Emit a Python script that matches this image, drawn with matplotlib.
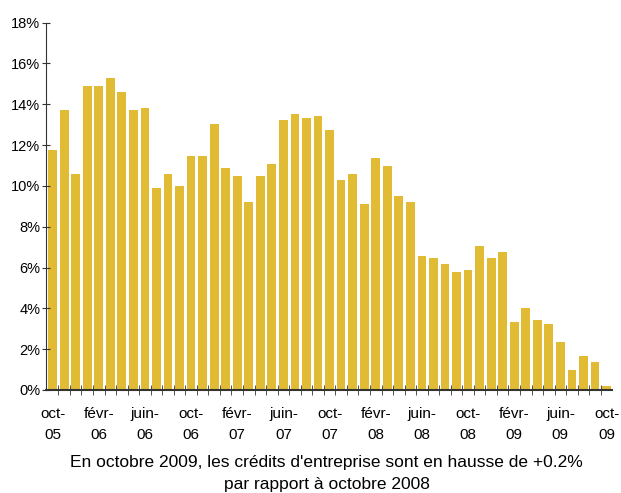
import matplotlib.pyplot as plt
import numpy as np

plt.rcParams['font.family'] = ['Liberation Sans', 'DejaVu Sans']

# taux de croissance annuel des crédits, oct-05 à oct-09 (mensuel)
valeurs = [11.76, 13.73, 10.59, 14.90, 14.90, 15.29, 14.61, 13.73, 13.82, 9.90,
           10.59, 10.00, 11.47, 11.47, 13.04, 10.88, 10.49, 9.22, 10.49, 11.08,
           13.24, 13.53, 13.33, 13.43, 12.75, 10.29, 10.59, 9.12, 11.37, 10.98,
           9.51, 9.22, 6.57, 6.47, 6.18, 5.78, 5.88, 7.06, 6.47, 6.76,
           3.33, 4.02, 3.43, 3.24, 2.35, 0.98, 1.67, 1.37, 0.20]
etiquettes = ['oct-\n05', 'févr-\n06', 'juin-\n06', 'oct-\n06', 'févr-\n07', 'juin-\n07',
              'oct-\n07', 'févr-\n08', 'juin-\n08', 'oct-\n08', 'févr-\n09', 'juin-\n09',
              'oct-\n09']
y_ticks = [0, 2, 4, 6, 8, 10, 12, 14, 16, 18]

fig = plt.figure(figsize=(6.21, 4.93), dpi=100)
ax = fig.add_axes([0.0736, 0.209, 0.912, 0.745])

x = np.arange(len(valeurs))
ax.bar(x, valeurs, width=0.76, color='#E0BB33')

ax.set_xlim(-0.6, len(valeurs) - 0.52)
ax.set_ylim(0, 18)

ax.set_yticks(y_ticks)
ax.set_yticklabels([f'{v}%' for v in y_ticks], fontsize=10.5)
ax.set_xticks(x[::4])
ax.set_xticklabels(etiquettes, fontsize=11, linespacing=1.65)
ax.set_xticks(x[:-1] + 0.5, minor=True)
ax.tick_params(axis='x', which='major', length=0, pad=12)
ax.tick_params(axis='x', which='minor', direction='inout', length=7, color='#333333')
ax.tick_params(axis='y', direction='inout', length=6, color='#333333', pad=1)

for s in ['top', 'right']:
    ax.spines[s].set_visible(False)
ax.spines['left'].set_color('#333333')
ax.spines['bottom'].set_color('#333333')
ax.spines['bottom'].set_linewidth(1.5)

fig.text(0.526, 0.04, "En octobre 2009, les crédits d'entreprise sont en hausse de +0.2%\npar rapport à octobre 2008",
         ha='center', va='center', fontsize=12.5, linespacing=1.6)

fig.savefig('out.png', dpi=100)
